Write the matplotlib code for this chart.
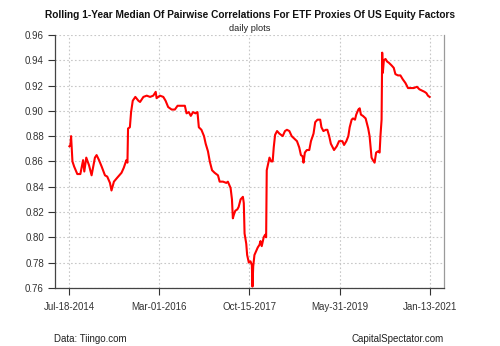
import numpy as np
import pandas as pd
import matplotlib.pyplot as plt
import matplotlib.dates as mdates

plt.rcParams['font.family'] = ['Liberation Sans', 'DejaVu Sans']

# rolling 1-year median pairwise correlation, days counted from the first observation
start = pd.Timestamp('2014-07-18')
day_offset = [
    0, 7, 11, 20, 31, 52, 72, 90, 98, 111, 129, 146, 168, 179, 195, 212, 234, 249,
    267, 277, 293, 314, 343, 358, 375, 382, 386, 398, 406, 417, 434, 454, 465, 487,
    509, 531, 552, 568, 574, 596, 618, 633, 650, 673, 694, 712, 738, 760, 771, 786,
    799, 814, 830, 843, 852, 869, 886, 897, 912, 924, 939, 956, 978, 989, 1011, 1033,
    1043, 1061, 1070, 1076, 1083, 1092, 1105, 1114, 1127, 1142, 1148, 1153, 1164,
    1170, 1181, 1192, 1201, 1205, 1210, 1218, 1229, 1240, 1251, 1258, 1266, 1279,
    1288, 1295, 1299, 1317, 1328, 1338, 1345, 1354, 1367, 1382, 1404, 1419, 1432,
    1448, 1463, 1480, 1498, 1513, 1524, 1535, 1541, 1550, 1563, 1579, 1590, 1607,
    1618, 1633, 1651, 1659, 1672, 1688, 1698, 1710, 1721, 1742, 1760, 1775, 1797,
    1808, 1823, 1836, 1845, 1858, 1867, 1880, 1888, 1902, 1911, 1919, 1932, 1950,
    1967, 1976, 1983, 1989, 1998, 2009, 2019, 2032, 2042, 2048, 2055, 2059, 2063,
    2070, 2081, 2091, 2103, 2120, 2135, 2146, 2163, 2179, 2194, 2212, 2229, 2245,
    2266, 2288, 2304, 2321, 2338, 2350, 2360, 2371,
]
median_corr = [
    0.872, 0.873, 0.880, 0.860, 0.856, 0.850, 0.850, 0.861, 0.852, 0.863, 0.857,
    0.849, 0.863, 0.865, 0.861, 0.856, 0.849, 0.848, 0.843, 0.837, 0.844, 0.847,
    0.851, 0.855, 0.861, 0.859, 0.886, 0.887, 0.899, 0.908, 0.911, 0.908, 0.907,
    0.911, 0.912, 0.911, 0.912, 0.915, 0.910, 0.912, 0.911, 0.908, 0.903, 0.901,
    0.901, 0.904, 0.904, 0.904, 0.898, 0.899, 0.896, 0.899, 0.898, 0.899, 0.887,
    0.885, 0.880, 0.874, 0.868, 0.860, 0.853, 0.851, 0.849, 0.844, 0.844, 0.843,
    0.844, 0.839, 0.830, 0.815, 0.818, 0.821, 0.822, 0.824, 0.830, 0.832, 0.827,
    0.803, 0.795, 0.786, 0.780, 0.781, 0.778, 0.761, 0.777, 0.786, 0.789, 0.792,
    0.794, 0.797, 0.793, 0.800, 0.802, 0.800, 0.853, 0.863, 0.860, 0.860, 0.871,
    0.881, 0.884, 0.882, 0.880, 0.884, 0.885, 0.884, 0.880, 0.878, 0.876, 0.871,
    0.865, 0.864, 0.859, 0.867, 0.869, 0.869, 0.876, 0.882, 0.891, 0.893, 0.893,
    0.887, 0.884, 0.885, 0.885, 0.880, 0.874, 0.869, 0.872, 0.876, 0.876, 0.873,
    0.876, 0.880, 0.887, 0.893, 0.894, 0.893, 0.897, 0.901, 0.902, 0.897, 0.896,
    0.894, 0.886, 0.880, 0.871, 0.863, 0.861, 0.859, 0.867, 0.868, 0.867, 0.881,
    0.893, 0.946, 0.930, 0.940, 0.941, 0.939, 0.938, 0.936, 0.934, 0.929, 0.928,
    0.928, 0.925, 0.922, 0.918, 0.918, 0.918, 0.919, 0.917, 0.916, 0.915, 0.914,
    0.912, 0.911,
]
tick_dates = ['2014-07-18', '2016-03-01', '2017-10-15', '2019-05-31', '2021-01-13']
y_ticks = [0.76, 0.78, 0.80, 0.82, 0.84, 0.86, 0.88, 0.90, 0.92, 0.94, 0.96]

dates = start + pd.to_timedelta(day_offset, unit='D')
ticks = pd.to_datetime(tick_dates)

fig = plt.figure(figsize=(5, 3.46), dpi=100)
ax = fig.add_axes([0.11, 0.168, 0.778, 0.731])

ax.plot(dates, median_corr, color='#ff0000', lw=1.5, zorder=3)

# pad the date range by 4% on both sides
span = dates[-1] - dates[0]
ax.set_xlim(dates[0] - span * 0.04, dates[-1] + span * 0.04)
ax.set_ylim(0.76, 0.96)

ax.set_xticks(ticks)
ax.xaxis.set_major_formatter(mdates.DateFormatter('%b-%d-%Y'))
ax.set_yticks(y_ticks)
ax.set_yticklabels([f'{v:.2f}' for v in y_ticks])
ax.tick_params(labelsize=7, colors='#333333', length=5, width=0.8, pad=5)
ax.tick_params(axis='y', pad=3)

ax.grid(True, color='#c8c8c8', linestyle=(0, (1.5, 2)), linewidth=0.8, zorder=0)
ax.spines['top'].set_visible(False)
ax.spines['left'].set_color('#444444')
ax.spines['bottom'].set_color('#444444')
ax.spines['right'].set_color('#9a9a9a')
for s in ax.spines.values():
    s.set_linewidth(0.9)

fig.text(0.5, 0.957, 'Rolling 1-Year Median Of Pairwise Correlations For ETF Proxies Of US Equity Factors',
         ha='center', va='center', fontsize=7.3, fontweight='bold', color='#111111')
fig.text(0.5, 0.919, 'daily plots', ha='center', va='center', fontsize=6.7, color='#222222')
fig.text(0.108, 0.02, 'Data: Tiingo.com', ha='left', va='center', fontsize=7, color='#222222')
fig.text(0.887, 0.02, 'CapitalSpectator.com', ha='right', va='center', fontsize=7, color='#222222')

plt.savefig('out.png', dpi=100)
